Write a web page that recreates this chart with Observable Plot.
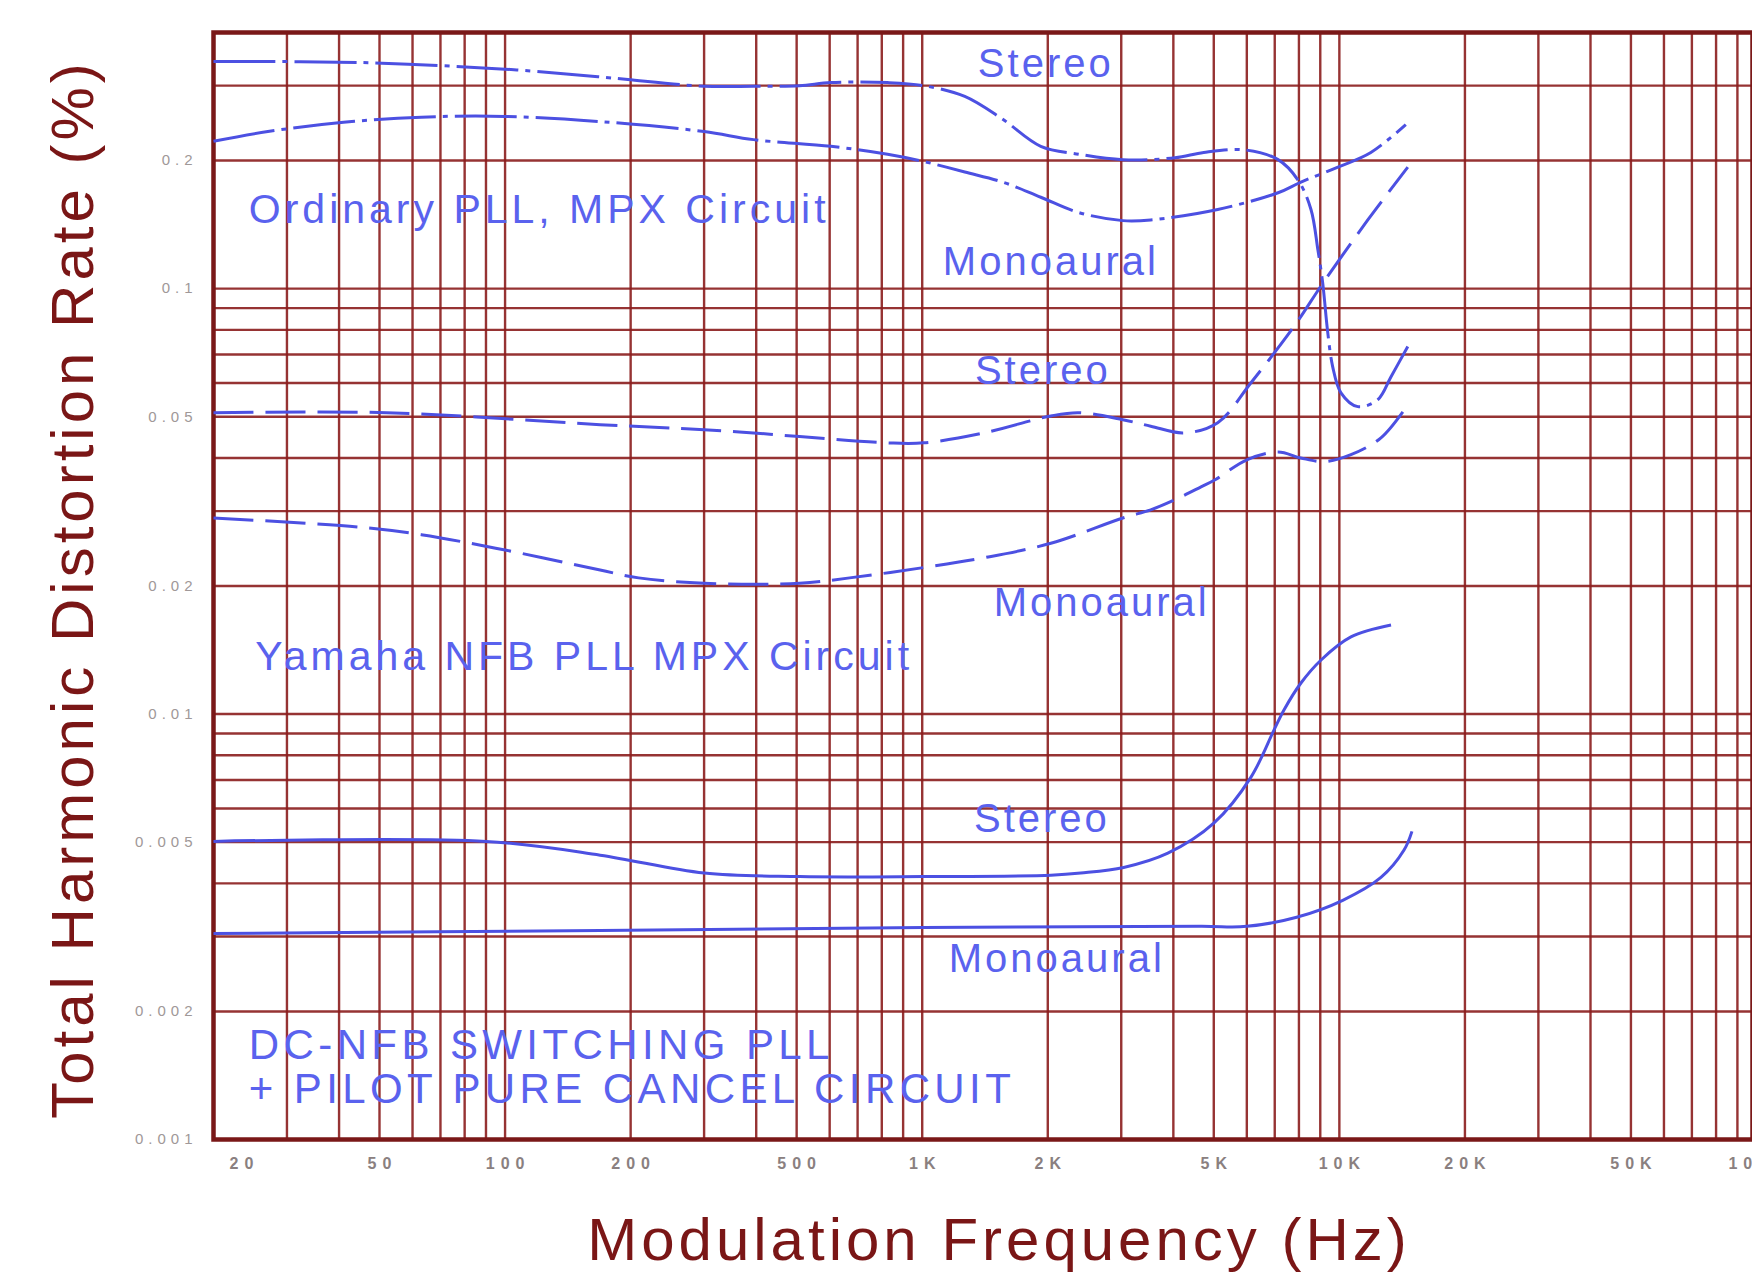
<!DOCTYPE html>
<html><head><meta charset="utf-8">
<script src="https://cdn.jsdelivr.net/npm/d3@7"></script>
<script src="https://cdn.jsdelivr.net/npm/@observablehq/plot@0.6"></script>
<style>
html,body{margin:0;padding:0;background:#fff;overflow:hidden;}
#chart svg{display:block;max-width:none;}
</style></head><body><div id="chart"></div>
<script>
// ---- data (frequency in Hz, THD in %) ----
const ordinaryStereoHz  = [20,45,100,167,197,300,394,508,604,826,1008,1265,1560,1924,2372,3026,4035,4730,5900,7130,7960,8550,8880,9120,9380,9640,10090,11070,12360,13300,14590];
const ordinaryStereoThd = [0.342,0.340,0.328,0.315,0.310,0.299,0.299,0.300,0.305,0.305,0.300,0.283,0.250,0.216,0.207,0.201,0.203,0.209,0.212,0.201,0.180,0.1535,0.1236,0.1033,0.0788,0.0655,0.0569,0.0528,0.0548,0.0621,0.0731];

const ordinaryMonoHz  = [20,27,41,63,100,169,300,394,604,826,1008,1265,1560,1924,2372,3026,3530,5110,7130,8090,9920,11900,14430];
const ordinaryMonoThd = [0.222,0.234,0.246,0.253,0.254,0.247,0.234,0.224,0.216,0.207,0.199,0.188,0.178,0.164,0.151,0.1445,0.145,0.1535,0.168,0.178,0.193,0.209,0.243];

const yamahaStereoHz  = [20,52,169,300,394,508,826,1008,1405,2034,2372,3026,3530,4240,5110,6140,7780,9180,11700,14590];
const yamahaStereoThd = [0.0511,0.0511,0.0479,0.0466,0.0458,0.0449,0.0434,0.0434,0.0458,0.0502,0.0511,0.0492,0.0475,0.0458,0.0484,0.0601,0.0814,0.1038,0.145,0.193];

const yamahaMonoHz  = [20,45,63,100,169,209,300,508,670,1008,1405,2034,3026,3530,4035,4660,5050,6000,7130,8080,9180,10660,12580,14430];
const yamahaMonoThd = [0.0289,0.0275,0.0264,0.0243,0.0218,0.0209,0.0203,0.0203,0.0209,0.0221,0.0233,0.0252,0.0289,0.0302,0.0319,0.0342,0.0356,0.0396,0.0413,0.0400,0.0392,0.0407,0.0446,0.0525];

const dcStereoHz  = [20,90,169,300,508,1008,2034,2400,3040,3880,5000,6140,6970,7360,8090,9040,10660,13300];
const dcStereoThd = [0.00502,0.00502,0.00466,0.00423,0.00415,0.00415,0.00418,0.00423,0.00436,0.00471,0.00554,0.00711,0.00917,0.01021,0.01183,0.0134,0.01518,0.01619];

const dcMonoHz  = [20,169,1008,4660,6000,7900,10190,12580,14290,14930];
const dcMonoThd = [0.00305,0.00310,0.00315,0.00317,0.00317,0.00333,0.00365,0.00413,0.00479,0.00530];

// curve labels
const curveLabels   = ["Stereo","Monoaural","Stereo","Monoaural","Stereo","Monoaural"];
const curveLabelHz  = [1978,2034,1946,2694,1936,2102];
const curveLabelThd = [0.3365,0.1151,0.0641,0.01824,0.00566,0.002652];

const circuitLabels   = ["Ordinary PLL, MPX Circuit","Yamaha NFB PLL MPX Circuit"];
const circuitLabelHz  = [24.3,25.2];
const circuitLabelThd = [0.1535,0.01362];

const dcLabels   = ["DC-NFB SWITCHING PLL","+ PILOT PURE CANCEL CIRCUIT"];
const dcLabelHz  = [24.3,24.3];
const dcLabelThd = [0.001664,0.001311];

// ticks and grid
const xTickValues = [20,50,100,200,500,1000,2000,5000,10000,20000,50000,100000];
const xTickLabels = ["20","50","100","200","500","1K","2K","5K","10K","20K","50K","100K"];
const yTickValues = [0.001,0.002,0.005,0.01,0.02,0.05,0.1,0.2];
const yTickLabels = ["0.001","0.002","0.005","0.01","0.02","0.05","0.1","0.2"];
const xGrid = [30,40,50,60,70,80,90,100,200,300,400,500,600,700,800,900,1000,2000,3000,4000,5000,6000,7000,8000,9000,10000,20000,30000,40000,50000,60000,70000,80000,90000];
const yGrid = [0.002,0.003,0.004,0.005,0.006,0.007,0.008,0.009,0.01,0.02,0.03,0.04,0.05,0.06,0.07,0.08,0.09,0.1,0.2,0.3];

const xTitle = "Modulation Frequency (Hz)";
const yTitle = "Total Harmonic Distortion Rate (%)";

// ---- build ----
const zip = (hz, thd) => hz.map((f, i) => ({f, v: thd[i]}));
const series = [
  {data: zip(ordinaryStereoHz, ordinaryStereoThd), dash: "62,7,5,7"},
  {data: zip(ordinaryMonoHz, ordinaryMonoThd), dash: "62,7,5,7"},
  {data: zip(yamahaStereoHz, yamahaStereoThd), dash: "40,12"},
  {data: zip(yamahaMonoHz, yamahaMonoThd), dash: "40,12"},
  {data: zip(dcStereoHz, dcStereoThd), dash: null},
  {data: zip(dcMonoHz, dcMonoThd), dash: null}
];

const GRID = "#8b1d1d";
const BLUE = "#4c50e2";
const TXT = "#5a62ee";
const TITLE = "#7a1616";

const lineMarks = series.map(s => Plot.line(s.data, {
  x: "f", y: "v", curve: "catmull-rom", stroke: BLUE, strokeWidth: 3,
  strokeDasharray: s.dash, strokeLinecap: "butt"
}));

const xTickRows = xTickValues.map((v, i) => ({v, label: xTickLabels[i]}));

const plot = Plot.plot({
  width: 1752,
  height: 1278,
  marginLeft: 213,
  marginRight: 0,
  marginTop: 32,
  marginBottom: 139,
  style: {fontFamily: "'Liberation Sans', Arial, sans-serif", background: "#fff", overflow: "visible"},
  x: {type: "log", domain: [20, 100000], range: [213, 1756], axis: null},
  y: {type: "log", domain: [0.001, 0.4], range: [1139, 32], axis: null},
  marks: [
    Plot.ruleX(xGrid, {x: d => d, stroke: GRID, strokeWidth: 2.4, strokeOpacity: 0.9}),
    Plot.ruleY(yGrid, {y: d => d, stroke: GRID, strokeWidth: 2.4, strokeOpacity: 0.9}),
    Plot.frame({stroke: "#7a1818", strokeWidth: 4.5}),
    ...lineMarks,
    Plot.text(xTickRows.slice(1), {x: "v", frameAnchor: "bottom", lineAnchor: "middle", dy: 24, dx: 3, text: "label", fontSize: 16, fill: "#8a8080", fontWeight: "bold"}),
    Plot.text(xTickRows.slice(0, 1), {x: "v", frameAnchor: "bottom", lineAnchor: "middle", textAnchor: "start", dy: 24, dx: 16, text: "label", fontSize: 16, fill: "#8a8080", fontWeight: "bold"}),
    Plot.text(yTickValues, {y: d => d, frameAnchor: "left", lineAnchor: "middle", dx: -16, textAnchor: "end", text: (d, i) => yTickLabels[i], fontSize: 15, fill: "#a09898"}),
    Plot.text(curveLabels, {x: (d, i) => curveLabelHz[i], y: (d, i) => curveLabelThd[i], text: d => d, fontSize: 40, fill: TXT}),
    Plot.text(circuitLabels, {x: (d, i) => circuitLabelHz[i], y: (d, i) => circuitLabelThd[i], text: d => d, textAnchor: "start", fontSize: 41, fill: TXT}),
    Plot.text(dcLabels, {x: (d, i) => dcLabelHz[i], y: (d, i) => dcLabelThd[i], text: d => d, textAnchor: "start", fontSize: 42, fill: TXT}),
    Plot.text([xTitle], {frameAnchor: "bottom", lineAnchor: "middle", textAnchor: "middle", dx: 16, dy: 101, text: d => d, fontSize: 60, fill: TITLE}),
    Plot.text([yTitle], {frameAnchor: "left", lineAnchor: "middle", textAnchor: "middle", dx: -140, dy: 3, rotate: -90, text: d => d, fontSize: 60, fill: TITLE})
  ]
});

// letter spacing per text group (in mark order)
const spacing = [6, 6, 5, 3, 4, 4.4, 4, 4];
d3.select(plot).selectAll('g[aria-label="text"]').each(function(_, i) {
  if (spacing[i] != null) d3.select(this).attr("letter-spacing", spacing[i]);
});

document.getElementById("chart").appendChild(plot);
</script>
</body></html>
